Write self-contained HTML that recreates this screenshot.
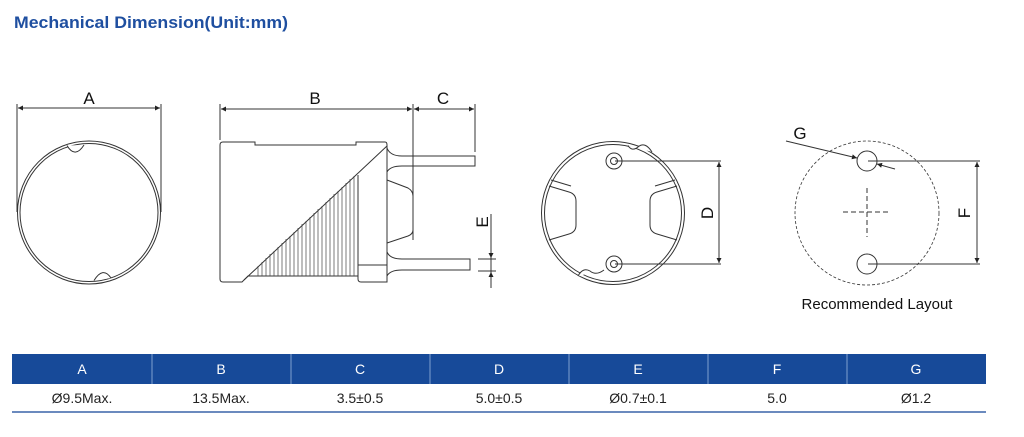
<!DOCTYPE html>
<html><head><meta charset="utf-8"><style>
html,body{margin:0;padding:0;background:#fff;width:1024px;height:437px;overflow:hidden}
svg{display:block}
text{font-family:"Liberation Sans",sans-serif}
</style></head><body>
<svg width="1024" height="437" viewBox="0 0 1024 437" xmlns="http://www.w3.org/2000/svg">
<defs>
<marker id="ar" viewBox="0 0 10 10" refX="10" refY="5" markerWidth="8" markerHeight="5" orient="auto-start-reverse" markerUnits="userSpaceOnUse"><path d="M0,0 L10,5 L0,10z" fill="#222"/></marker>
</defs>
<text x="14" y="28" font-size="17" font-weight="bold" fill="#1f4fa0" textLength="274" lengthAdjust="spacingAndGlyphs">Mechanical Dimension(Unit:mm)</text>

<g stroke="#333" stroke-width="1" fill="none">
<!-- A view -->
<line x1="17" y1="104" x2="17" y2="212"/><line x1="161" y1="104" x2="161" y2="212"/>
<line x1="18" y1="108" x2="160" y2="108" marker-start="url(#ar)" marker-end="url(#ar)"/>
<circle cx="89" cy="212.5" r="71.5"/>
<circle cx="89" cy="212.5" r="69"/>
<path d="M67,145.5 Q75,159 84,145" fill="#fff"/>
<path d="M94,280.5 Q103,266 111,278" fill="#fff"/>

<!-- B side view -->
<line x1="220" y1="104" x2="220" y2="140"/>
<line x1="413" y1="104" x2="413" y2="240"/>
<line x1="475" y1="104" x2="475" y2="152"/>
<line x1="221" y1="109" x2="412" y2="109" marker-start="url(#ar)" marker-end="url(#ar)"/>
<line x1="414" y1="109" x2="474" y2="109" marker-start="url(#ar)" marker-end="url(#ar)"/>
<path d="M223,142 L255,142 L255,145 L356,145 L356,142 L385,142 Q387,142 387,145 L387,282 L361,282 Q358,282 358,279 L358,276 L248,276 L242,282 L223,282 Q220,282 220,279 L220,145 Q220,142 223,142 Z"/>
<line x1="387" y1="146" x2="244" y2="280"/>
<line x1="358" y1="175" x2="358" y2="276"/>
<line x1="358" y1="265" x2="387" y2="265"/>
<path d="M387,148 Q390,156 402,156 L475,156 L475,166 L402,166 Q390,166 387,172 L387,180 L408,188 Q413,191 413,196 L413,230 Q413,234 408,236 L387,243 L387,252 Q390,259 402,259 L470,259 L470,270 L402,270 Q390,270 387,276"/>
</g>
<g stroke="#444" stroke-width="0.7">
<path d="M258,276V266M262,276V262M266,276V258M270,276V254M274,276V251M278,276V247M282,276V243M286,276V239M290,276V236M294,276V232M298,276V228M302,276V224M306,276V221M310,276V217M314,276V213M318,276V209M322,276V206M326,276V202M330,276V198M334,276V194M338,276V191M342,276V187M346,276V183M350,276V179M354,276V176"/>
</g>
<g stroke="#333" stroke-width="1" fill="none">
<!-- E dim -->
<line x1="491" y1="214" x2="491" y2="288"/>
<line x1="478" y1="259" x2="496" y2="259"/><line x1="478" y1="271" x2="496" y2="271"/>
<line x1="491" y1="248" x2="491" y2="258" marker-end="url(#ar)"/>
<line x1="491" y1="282" x2="491" y2="272" marker-end="url(#ar)"/>

<!-- bottom view -->
<circle cx="613" cy="213" r="71.5"/>
<circle cx="613" cy="213" r="68.5"/>
<path d="M628,145.5 Q632,152 638,147 Q645,141 652,152" fill="#fff"/>
<path d="M578,276 Q583,267 590,271 Q596,276 604,270" fill="#fff"/>
<circle cx="614" cy="161" r="8"/><circle cx="614" cy="161" r="3.5"/>
<circle cx="614" cy="264" r="8"/><circle cx="614" cy="264" r="3.5"/>
<path d="M549,186 L569,192 Q576,194 576,201 L576,225 Q576,232 569,234 L549,240"/>
<path d="M551,180 L571,186"/>
<path d="M677,186 L657,192 Q650,194 650,201 L650,225 Q650,232 657,234 L677,240"/>
<path d="M675,180 L655,186"/>
<line x1="615" y1="161" x2="721" y2="161"/><line x1="615" y1="264" x2="721" y2="264"/>
<line x1="719" y1="162" x2="719" y2="263" marker-start="url(#ar)" marker-end="url(#ar)"/>

<!-- layout -->
<circle cx="867" cy="213" r="72" stroke-dasharray="3,2" stroke-width="0.8"/>
<circle cx="867" cy="161" r="10"/><circle cx="867" cy="264" r="10"/>
<path d="M867,188 V237 M843,212 H891" stroke-dasharray="5,3"/>
<line x1="868" y1="161" x2="980" y2="161"/><line x1="868" y1="264" x2="980" y2="264"/>
<line x1="977" y1="162" x2="977" y2="263" marker-start="url(#ar)" marker-end="url(#ar)"/>
<line x1="786" y1="141" x2="857" y2="158" marker-end="url(#ar)"/>
<line x1="895" y1="169" x2="877" y2="164" marker-end="url(#ar)"/>
</g>
<g font-size="17" fill="#111" text-anchor="middle">
<text x="89" y="104">A</text>
<text x="315" y="104">B</text>
<text x="443" y="104">C</text>
<text x="800" y="139">G</text>
<text transform="translate(488,222) rotate(-90)">E</text>
<text transform="translate(713,213) rotate(-90)">D</text>
<text transform="translate(970,213) rotate(-90)">F</text>
<text x="877" y="309" font-size="15">Recommended Layout</text>
</g>

<!-- table -->
<rect x="12" y="354" width="974" height="30" fill="#174a99"/>
<g stroke="#7fa0d0" stroke-width="1">
<line x1="152" y1="354" x2="152" y2="384"/><line x1="291" y1="354" x2="291" y2="384"/><line x1="430" y1="354" x2="430" y2="384"/><line x1="569" y1="354" x2="569" y2="384"/><line x1="708" y1="354" x2="708" y2="384"/><line x1="847" y1="354" x2="847" y2="384"/>
</g>
<line x1="12" y1="412" x2="986" y2="412" stroke="#3a64a8" stroke-width="1.5"/>
<g font-size="14" fill="#fff" text-anchor="middle">
<text x="82" y="374">A</text><text x="221" y="374">B</text><text x="360" y="374">C</text><text x="499" y="374">D</text><text x="638" y="374">E</text><text x="777" y="374">F</text><text x="916" y="374">G</text>
</g>
<g font-size="14" fill="#222" text-anchor="middle">
<text x="82" y="403">Ø9.5Max.</text><text x="221" y="403">13.5Max.</text><text x="360" y="403">3.5±0.5</text><text x="499" y="403">5.0±0.5</text><text x="638" y="403">Ø0.7±0.1</text><text x="777" y="403">5.0</text><text x="916" y="403">Ø1.2</text>
</g>
</svg>
</body></html>
